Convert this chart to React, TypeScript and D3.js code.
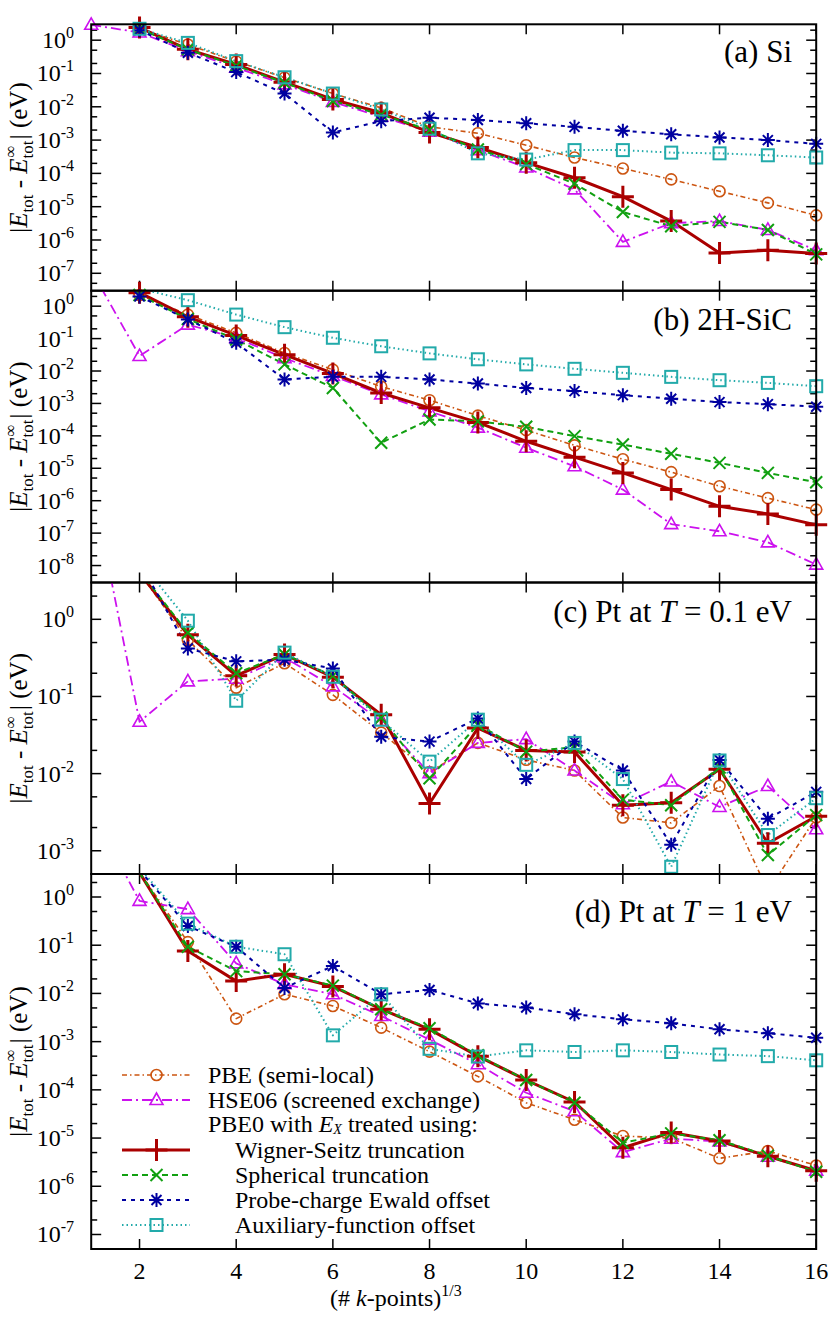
import React from "react";
import * as d3 from "d3";

// x values: (# k-points)^(1/3)
const kPoints = [1, 2, 3, 4, 5, 6, 7, 8, 9, 10, 11, 12, 13, 14, 15, 16];
const xTicks = [2, 4, 6, 8, 10, 12, 14, 16];

// (a) Si
const siPBE = [null, 2.2, 0.74, 0.23, 0.075, 0.025, 0.0093, 0.0025, 0.0016, 0.0007, 0.0003, 0.00014, 6.6e-5, 2.9e-5, 1.3e-5, 5.5e-6];
const siHSE = [2.9, 1.7, 0.47, 0.15, 0.047, 0.014, 0.005, 0.0018, 0.0005, 0.00015, 3.3e-5, 8.8e-7, 3.2e-6, 3.7e-6, 2.0e-6, 4.9e-7];
const siWS = [null, 2.4, 0.53, 0.186, 0.055, 0.0166, 0.0066, 0.0017, 0.0006, 0.00021, 7.4e-5, 2.0e-5, 3.7e-6, 4.1e-7, 4.9e-7, 3.9e-7];
const siSph = [null, 2.2, 0.53, 0.17, 0.053, 0.015, 0.0058, 0.002, 0.00052, 0.00019, 4.9e-5, 6.9e-6, 2.6e-6, 3.5e-6, 2.0e-6, 3.7e-7];
const siProbe = [null, 2.0, 0.42, 0.11, 0.025, 0.0017, 0.0037, 0.0047, 0.004, 0.0032, 0.0025, 0.0019, 0.0015, 0.0012, 0.001, 0.00077];
const siAux = [null, 2.2, 0.83, 0.235, 0.077, 0.025, 0.0083, 0.0022, 0.0004, 0.00026, 0.0005, 0.0005, 0.00042, 0.0004, 0.00035, 0.0003];

// (b) 2H-SiC
const sicPBE = [null, 2.2, 0.55, 0.15, 0.036, 0.011, 0.0033, 0.00126, 0.00042, 0.00015, 5.1e-5, 1.9e-5, 7.6e-6, 2.8e-6, 1.2e-6, 5.3e-7];
const sicHSE = [13, 0.029, 0.27, 0.105, 0.025, 0.007, 0.0019, 0.00057, 0.00018, 4.3e-5, 1.15e-5, 2.2e-6, 1.9e-7, 1.14e-7, 5.2e-8, 1.07e-8];
const sicWS = [null, 2.6, 0.47, 0.125, 0.032, 0.0084, 0.0021, 0.00073, 0.00026, 6.8e-5, 2.2e-5, 7.2e-6, 2.2e-6, 6.7e-7, 3.9e-7, 1.8e-7];
const sicSph = [null, 2.2, 0.40, 0.094, 0.016, 0.003, 6.1e-5, 0.00032, 0.00028, 0.00019, 9.8e-5, 5.4e-5, 2.8e-5, 1.47e-5, 7.2e-6, 3.7e-6];
const sicProbe = [null, 2.0, 0.39, 0.074, 0.0055, 0.0066, 0.0066, 0.0055, 0.0041, 0.003, 0.0024, 0.0018, 0.0014, 0.0011, 0.00095, 0.00079];
const sicAux = [null, 3.5, 1.53, 0.55, 0.225, 0.106, 0.058, 0.035, 0.023, 0.016, 0.0117, 0.0088, 0.0066, 0.0052, 0.0043, 0.0034];

// (c) Pt at T = 0.1 eV
const pt01PBE = [null, 4.0, 0.54, 0.13, 0.27, 0.105, 0.034, 0.0105, 0.025, 0.0151, 0.011, 0.0027, 0.0023, 0.0069, 0.0003, 0.0027];
const pt01HSE = [65, 0.047, 0.157, 0.17, 0.32, 0.135, 0.048, 0.0101, 0.025, 0.028, 0.011, 0.004, 0.0079, 0.0037, 0.0069, 0.0019];
const pt01WS = [null, 4.0, 0.63, 0.186, 0.35, 0.178, 0.058, 0.0041, 0.039, 0.02, 0.019, 0.0039, 0.0042, 0.0114, 0.00125, 0.0028];
const pt01Sph = [null, 4.2, 0.67, 0.2, 0.35, 0.185, 0.053, 0.0087, 0.043, 0.0193, 0.022, 0.0046, 0.0039, 0.012, 0.00088, 0.0029];
const pt01Probe = [null, 5.5, 0.42, 0.285, 0.3, 0.23, 0.03, 0.026, 0.052, 0.0085, 0.026, 0.011, 0.0012, 0.015, 0.0026, 0.0058];
const pt01Aux = [null, 5.7, 0.96, 0.088, 0.37, 0.18, 0.05, 0.0143, 0.05, 0.013, 0.025, 0.0085, 0.00062, 0.0148, 0.0016, 0.0048];

// (d) Pt at T = 1 eV
const pt1PBE = [null, 3.3, 0.116, 0.003, 0.0096, 0.0055, 0.00195, 0.00062, 0.00019, 5.4e-5, 2.4e-5, 1.1e-5, 1.0e-5, 3.8e-6, 5.4e-6, 2.7e-6];
const pt1HSE = [60, 0.83, 0.56, 0.042, 0.0155, 0.0096, 0.0034, 0.0011, 0.00034, 8.7e-5, 3.6e-5, 5.1e-6, 9.7e-6, 8.5e-6, 4.1e-6, 2.1e-6];
const pt1WS = [null, 3.2, 0.076, 0.018, 0.025, 0.014, 0.0047, 0.0018, 0.0005, 0.00016, 5.6e-5, 6.3e-6, 1.3e-5, 8.7e-6, 4.2e-6, 2.1e-6];
const pt1Sph = [null, 3.2, 0.093, 0.029, 0.025, 0.0145, 0.0047, 0.0019, 0.00052, 0.00016, 5.4e-5, 8e-6, 1.25e-5, 9e-6, 4.3e-6, 2.0e-6];
const pt1Probe = [null, 3.6, 0.25, 0.093, 0.013, 0.037, 0.0096, 0.0118, 0.0062, 0.0051, 0.0037, 0.0029, 0.0024, 0.0018, 0.0015, 0.0012];
const pt1Aux = [null, 4.0, 0.28, 0.093, 0.065, 0.00135, 0.0096, 0.00071, 0.00049, 0.00066, 0.00061, 0.00066, 0.00061, 0.00054, 0.0005, 0.00041];

const seriesNames = [
  "PBE (semi-local)",
  "HSE06 (screened exchange)",
  "Wigner-Seitz truncation",
  "Spherical truncation",
  "Probe-charge Ewald offset",
  "Auxiliary-function offset",
];

const FONT = "'Liberation Serif','Times New Roman',Times,serif";

const STYLES = [
  { color: "#cc5511", dash: "5,3,1.5,3", width: 1.6, marker: "circle" },
  { color: "#cc11ee", dash: "10,4,2,4", width: 1.8, marker: "triangle" },
  { color: "#aa0000", dash: null, width: 3, marker: "plus" },
  { color: "#11a011", dash: "6,4", width: 2, marker: "x" },
  { color: "#0000a0", dash: "4,5", width: 2, marker: "star" },
  { color: "#22aaaa", dash: "1.5,3", width: 2, marker: "square" },
];

const PANELS = [
  { id: "a", top: 24.3, bottom: 290.7, yMin: 3e-8, yMax: 3, labelDy: 38,
    series: [siPBE, siHSE, siWS, siSph, siProbe, siAux] },
  { id: "b", top: 290.7, bottom: 582.5, yMin: 3e-9, yMax: 3, labelDy: 39,
    series: [sicPBE, sicHSE, sicWS, sicSph, sicProbe, sicAux] },
  { id: "c", top: 582.5, bottom: 874, yMin: 5e-4, yMax: 3, labelDy: 39,
    series: [pt01PBE, pt01HSE, pt01WS, pt01Sph, pt01Probe, pt01Aux] },
  { id: "d", top: 874, bottom: 1249, yMin: 5e-8, yMax: 3, labelDy: 48,
    series: [pt1PBE, pt1HSE, pt1WS, pt1Sph, pt1Probe, pt1Aux] },
];

const X0 = 91.2;
const X1 = 816.2;
const xScale = d3.scaleLinear().domain([1, 16]).range([X0, X1]);

function Marker({ type, x, y, color }: { type: string; x: number; y: number; color: string }) {
  const t = `translate(${x},${y})`;
  if (type === "circle")
    return <circle cx={x} cy={y} r={5.5} fill="none" stroke={color} strokeWidth={1.6} />;
  if (type === "triangle")
    return <path transform={t} d="M0,-7L6.5,4.5L-6.5,4.5Z" fill="none" stroke={color} strokeWidth={1.6} />;
  if (type === "plus")
    return <path transform={t} d="M-11,0H11M0,-11V11" stroke={color} strokeWidth={3} />;
  if (type === "x")
    return <path transform={t} d="M-6,-6L6,6M-6,6L6,-6" stroke={color} strokeWidth={2} />;
  if (type === "star")
    return <path transform={t} d="M-7,0H7M0,-7V7M-5,-5L5,5M-5,5L5,-5" stroke={color} strokeWidth={2} />;
  return <rect x={x - 6} y={y - 6} width={12} height={12} fill="none" stroke={color} strokeWidth={2} />;
}

function PanelLabel({ id }: { id: string }) {
  if (id === "a") return <>(a) Si</>;
  if (id === "b") return <>(b) 2H-SiC</>;
  if (id === "c")
    return (
      <>
        (c) Pt at <tspan fontStyle="italic">T</tspan> = 0.1 eV
      </>
    );
  return (
    <>
      (d) Pt at <tspan fontStyle="italic">T</tspan> = 1 eV
    </>
  );
}

function Panel({ p, last }: { p: typeof PANELS[number]; last: boolean }) {
  const y = d3.scaleLog().domain([p.yMin, p.yMax]).range([p.bottom, p.top]);
  const clipId = `clip-${p.id}`;
  const line = d3
    .line<[number, number | null]>()
    .defined((d) => d[1] != null)
    .x((d) => xScale(d[0]))
    .y((d) => y(d[1] as number));

  const eMin = Math.ceil(Math.log10(p.yMin) - 1e-9);
  const eMax = Math.floor(Math.log10(p.yMax) + 1e-9);
  const majors: number[] = [];
  const minors: number[] = [];
  for (let e = eMin - 1; e <= eMax; e++) {
    const b = Math.pow(10, e);
    if (e >= eMin) majors.push(e);
    [2, 5].forEach((m) => {
      const v = m * b;
      if (v >= p.yMin && v <= p.yMax) minors.push(v);
    });
  }
  const cy = (p.top + p.bottom) / 2;

  return (
    <g>
      <defs>
        <clipPath id={clipId}>
          <rect x={X0} y={p.top} width={X1 - X0} height={p.bottom - p.top} />
        </clipPath>
      </defs>
      {/* ticks */}
      <g stroke="#000" strokeWidth={1.5}>
        {xTicks.map((t) => (
          <g key={"xt" + t}>
            <line x1={xScale(t)} x2={xScale(t)} y1={p.bottom} y2={p.bottom - 10} />
            <line x1={xScale(t)} x2={xScale(t)} y1={p.top} y2={p.top + 10} />
          </g>
        ))}
        {majors.map((e) => {
          const yy = y(Math.pow(10, e));
          return (
            <g key={"ym" + e}>
              <line x1={X0} x2={X0 + 10} y1={yy} y2={yy} />
              <line x1={X1} x2={X1 - 10} y1={yy} y2={yy} />
            </g>
          );
        })}
        {minors.map((v, i) => {
          const yy = y(v);
          return (
            <g key={"yn" + i}>
              <line x1={X0} x2={X0 + 6} y1={yy} y2={yy} />
              <line x1={X1} x2={X1 - 6} y1={yy} y2={yy} />
            </g>
          );
        })}
      </g>
      {/* y tick labels */}
      <g fontFamily={FONT} fontSize={24} fill="#000">
        {majors.map((e) => (
          <text key={"yl" + e} x={74} y={y(Math.pow(10, e)) + 8} textAnchor="end">
            10<tspan fontSize={16} dy={-10}>{e < 0 ? "-" + -e : String(e)}</tspan>
          </text>
        ))}
      </g>
      {/* y title */}
      <text
        transform={`translate(27,${cy}) rotate(-90)`}
        textAnchor="middle"
        fontFamily={FONT}
        fontSize={25}
        fill="#000"
      >
        |<tspan fontStyle="italic">E</tspan>
        <tspan fontSize={17} dy={6}>tot</tspan>
        <tspan dy={-6}> - </tspan>
        <tspan fontStyle="italic">E</tspan>
        <tspan fontSize={17} dy={6}>tot</tspan>
        <tspan fontSize={17} dx={-17} dy={-17}>∞</tspan>
        <tspan dx={6} dy={11}>| (eV)</tspan>
      </text>
      {/* series */}
      <g clipPath={`url(#${clipId})`}>
        {p.series.map((vals, si) => {
          const st = STYLES[si];
          const pts = kPoints.map((k, i) => [k, vals[i]] as [number, number | null]);
          return (
            <path
              key={"l" + si}
              d={line(pts) || ""}
              fill="none"
              stroke={st.color}
              strokeWidth={st.width}
              strokeDasharray={st.dash || undefined}
              strokeLinejoin="round"
            />
          );
        })}
      </g>
      {p.series.map((vals, si) => {
        const st = STYLES[si];
        return (
          <g key={"m" + si}>
            {kPoints.map((k, i) => {
              const v = vals[i];
              if (v == null || v < p.yMin || v > p.yMax) return null;
              return <Marker key={i} type={st.marker} x={xScale(k)} y={y(v)} color={st.color} />;
            })}
          </g>
        );
      })}
      {/* frame */}
      <rect x={X0} y={p.top} width={X1 - X0} height={p.bottom - p.top} fill="none" stroke="#000" strokeWidth={2} />
      {/* panel label */}
      <text x={792} y={p.top + p.labelDy} textAnchor="end" fontFamily={FONT} fontSize={31} fill="#000">
        <PanelLabel id={p.id} />
      </text>
      {last && (
        <g fontFamily={FONT} fontSize={24} fill="#000">
          {xTicks.map((t) => (
            <text key={"xl" + t} x={xScale(t)} y={p.bottom + 30} textAnchor="middle">
              {t}
            </text>
          ))}
          <text x={330} y={p.bottom + 57} fontSize={24}>
            (# <tspan fontStyle="italic">k</tspan>-points)<tspan fontSize={16} dy={-10}>1/3</tspan>
          </text>
        </g>
      )}
    </g>
  );
}

function Legend() {
  const rows = [0, 1, null, 2, 3, 4, 5];
  const y0 = 1075;
  const dy = 25;
  return (
    <g fontFamily={FONT} fontSize={24} fill="#000">
      {rows.map((si, r) => {
        const yy = y0 + r * dy;
        if (si == null)
          return (
            <text key="hdr" x={208} y={yy + 7}>
              PBE0 with <tspan fontStyle="italic">E</tspan>
              <tspan fontStyle="italic" fontSize={14} dy={2}>X</tspan>
              <tspan dy={-2}> treated using:</tspan>
            </text>
          );
        const st = STYLES[si];
        return (
          <g key={"lg" + si}>
            <line
              x1={122}
              x2={190}
              y1={yy}
              y2={yy}
              stroke={st.color}
              strokeWidth={st.width}
              strokeDasharray={st.dash || undefined}
            />
            <Marker type={st.marker} x={156.5} y={yy} color={st.color} />
            <text x={si >= 2 ? 235 : 208} y={yy + 8}>
              {seriesNames[si]}
            </text>
          </g>
        );
      })}
    </g>
  );
}

export default function App() {
  return (
    <svg
      width={830}
      height={1325}
      viewBox="0 0 830 1325"
      style={{ position: "absolute", left: 0, top: 0, background: "#fff" }}
    >
      <rect width={830} height={1325} fill="#fff" />
      {PANELS.map((p, i) => (
        <Panel key={p.id} p={p} last={i === PANELS.length - 1} />
      ))}
      <Legend />
    </svg>
  );
}
